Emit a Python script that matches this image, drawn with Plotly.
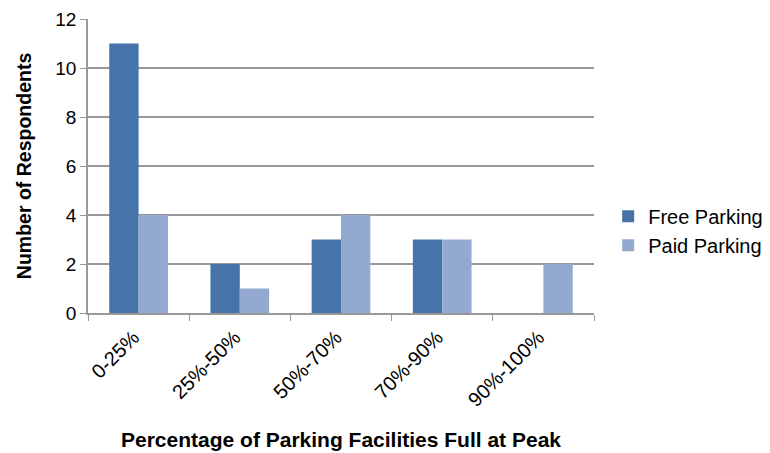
import plotly.graph_objects as go

categories = ['0-25%', '25%-50%', '50%-70%', '70%-90%', '90%-100%']
free_parking = [11, 2, 3, 3, 0]
paid_parking = [4, 1, 4, 3, 2]

fig = go.Figure()
fig.add_trace(go.Bar(x=categories, y=free_parking, name='Free Parking',
                     marker_color='#4674A9', marker_line_width=0))
fig.add_trace(go.Bar(x=categories, y=paid_parking, name='Paid Parking',
                     marker_color='#94A9CF', marker_line_width=0))

# page body has an 8px margin, so margins are shifted to compensate
fig.update_layout(
    width=770, height=453,
    margin=dict(l=80, r=184, t=11, b=148, autoexpand=False),
    plot_bgcolor='white', paper_bgcolor='white',
    font=dict(family='Liberation Sans, Arial, sans-serif', size=19, color='black'),
    barmode='group', bargap=0.42, bargroupgap=0,
    legend=dict(x=1.028, y=0.28, yanchor='middle', font=dict(size=20),
                tracegroupgap=0, itemwidth=30),
)
fig.update_xaxes(
    tickangle=-45, showline=True, linecolor='#999999', linewidth=1.5,
    ticks='outside', tickson='boundaries', ticklen=6, tickcolor='#999999',
    tickfont=dict(size=20), ticklabelstandoff=3, ticklabelshift=-5,
    showgrid=False, automargin=False,
    title=dict(text='<b>Percentage of Parking Facilities Full at Peak</b>',
               font=dict(size=21), standoff=22),
)
fig.update_yaxes(
    range=[0, 12], dtick=2, showline=True, linecolor='#999999', linewidth=1.5,
    ticks='outside', ticklen=6, tickcolor='#999999',
    showgrid=True, gridcolor='#999999', gridwidth=1.5, zeroline=False,
    automargin=False,
    title=dict(text='<b>Number of Respondents</b>', font=dict(size=19.5), standoff=18),
)

fig.write_html('out.html')
